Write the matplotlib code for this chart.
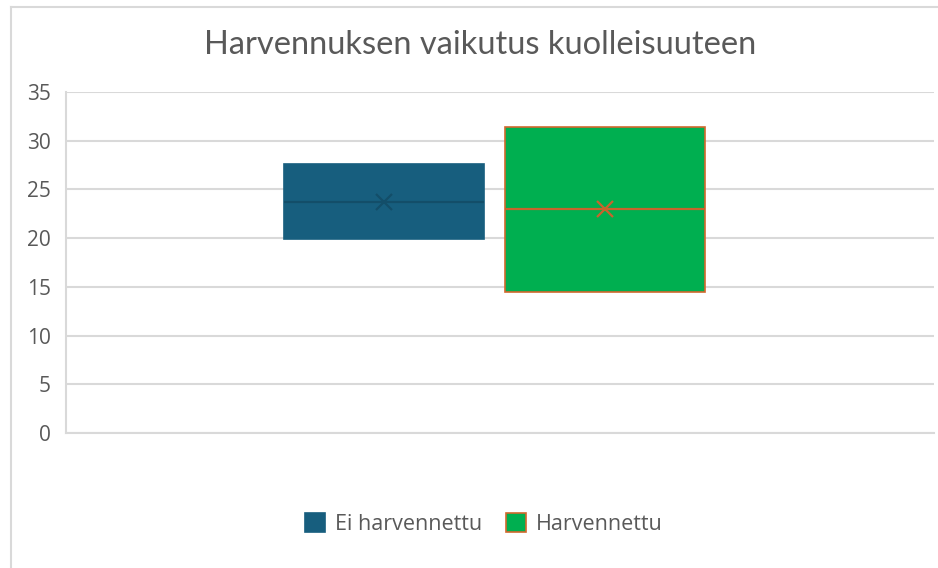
import matplotlib
matplotlib.use("Agg")
import matplotlib.pyplot as plt
from matplotlib.patches import Patch
from matplotlib.lines import Line2D

# Data
series_names = ["Ei harvennettu", "Harvennettu"]
q1_values = [19.9, 14.45]
q3_values = [27.65, 31.45]
median_values = [23.75, 22.95]
mean_values = [23.75, 22.95]
min_values = [19.9, 14.45]
max_values = [27.65, 31.45]
y_ticks = [0, 5, 10, 15, 20, 25, 30, 35]

face_colors = ["#175E7E", "#00AF50"]
edge_colors = ["#175E7E", "#D0692E"]
line_colors = ["#134E69", "#C8642C"]

fig = plt.figure(figsize=(9.38, 5.68), dpi=100)
ax = fig.add_axes([66/938, 1-433/568, 868/938, 341/568])

positions = [0.366, 0.621]
width = 0.230

for i, name in enumerate(series_names):
    stats = [dict(med=median_values[i], q1=q1_values[i], q3=q3_values[i],
                  whislo=min_values[i], whishi=max_values[i],
                  mean=mean_values[i], fliers=[], label=name)]
    ax.bxp(stats, positions=[positions[i]], widths=width, showmeans=True,
           showcaps=False, showfliers=False, patch_artist=True,
           boxprops=dict(facecolor=face_colors[i], edgecolor=edge_colors[i], linewidth=1.2),
           medianprops=dict(color=line_colors[i], linewidth=1.6),
           meanprops=dict(marker='x', markeredgecolor=line_colors[i], markersize=11,
                          markeredgewidth=1.6),
           whiskerprops=dict(color=edge_colors[i], linewidth=0),
           zorder=3)

ax.set_xlim(0, 1)
ax.set_ylim(0, 35)
ax.set_yticks(y_ticks)
ax.set_xticks([])
ax.yaxis.grid(True, color="#D9D9D9", linewidth=1.5, zorder=0)
ax.set_axisbelow(True)
for s in ["top", "right"]:
    ax.spines[s].set_visible(False)
ax.spines["left"].set_color("#D9D9D9")
ax.spines["left"].set_linewidth(1.5)
ax.spines["bottom"].set_color("#D9D9D9")
ax.spines["bottom"].set_linewidth(1.5)
ax.tick_params(axis="y", length=0, pad=11, labelsize=15, labelcolor="#595959")
for lbl in ax.get_yticklabels():
    lbl.set_fontfamily("Open Sans")

fig.text(0.512, 0.921, "Harvennuksen vaikutus kuolleisuuteen", ha="center", va="center",
         fontsize=23.5, color="#595959", family="Lato")

handles = [Patch(facecolor=face_colors[i], edgecolor=edge_colors[i], linewidth=1.2,
                 label=series_names[i]) for i in range(2)]
fig.legend(handles=handles, loc="center", bbox_to_anchor=(0.5155, 0.0775), ncol=2,
           frameon=False, prop=dict(family="Open Sans", size=15.5), labelcolor="#595959",
           handlelength=0.95, handleheight=0.95, handletextpad=0.45, columnspacing=1.1)

# chart frame
fig.add_artist(Line2D([11/938, 11/938], [0, 1-7/568], transform=fig.transFigure,
                      color="#D9D9D9", linewidth=1.5))
fig.add_artist(Line2D([11/938, 1], [1-7/568, 1-7/568], transform=fig.transFigure,
                      color="#D9D9D9", linewidth=1.5))

fig.savefig("out.png", dpi=100)
